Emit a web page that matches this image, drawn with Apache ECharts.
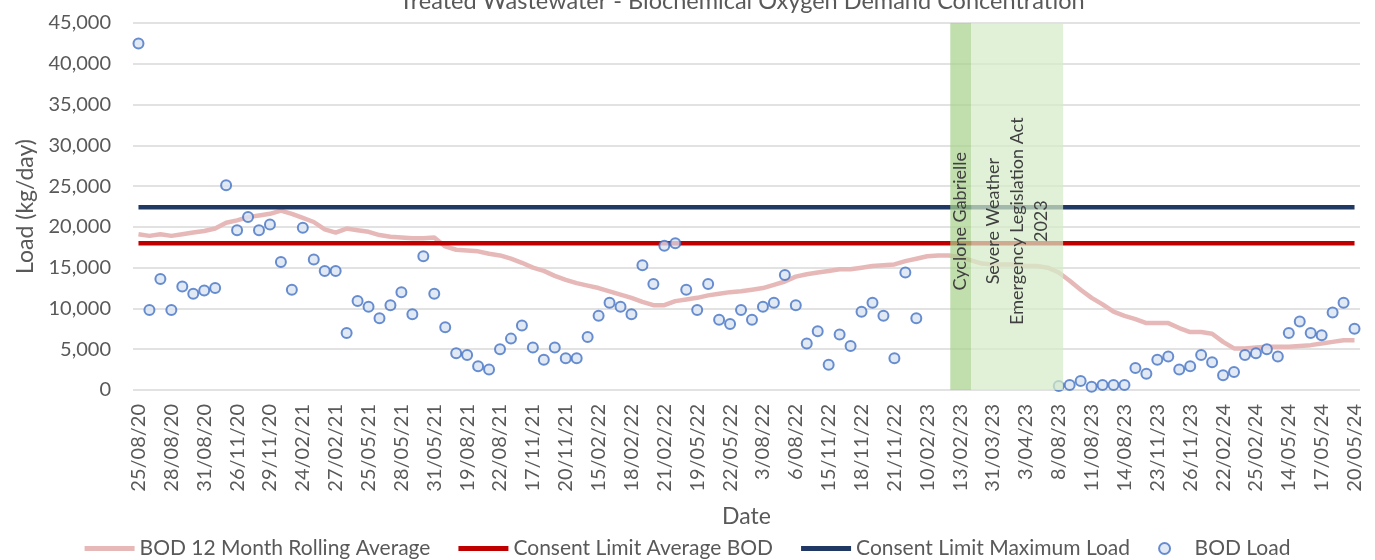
<!DOCTYPE html>
<html>
<head>
<meta charset="utf-8">
<title>Treated Wastewater - BOD</title>
<script src="https://cdn.jsdelivr.net/npm/echarts@6/dist/echarts.min.js"></script>
<style>
  html, body { margin: 0; padding: 0; background: #fff; }
  #chart { width: 1375px; height: 560px; }
</style>
</head>
<body>
<div id="chart"></div>
<script>
// sampling dates, one week each quarter
const dates = [
  '25/08/20', '26/08/20', '27/08/20', '28/08/20', '29/08/20', '30/08/20', '31/08/20',
  '24/11/20', '25/11/20', '26/11/20', '27/11/20', '28/11/20', '29/11/20', '30/11/20',
  '23/02/21', '24/02/21', '25/02/21', '26/02/21', '27/02/21', '28/02/21', '1/03/21',
  '25/05/21', '26/05/21', '27/05/21', '28/05/21', '29/05/21', '30/05/21', '31/05/21',
  '17/08/21', '18/08/21', '19/08/21', '20/08/21', '21/08/21', '22/08/21', '23/08/21',
  '16/11/21', '17/11/21', '18/11/21', '19/11/21', '20/11/21', '21/11/21', '22/11/21',
  '15/02/22', '16/02/22', '17/02/22', '18/02/22', '19/02/22', '20/02/22', '21/02/22',
  '17/05/22', '18/05/22', '19/05/22', '20/05/22', '21/05/22', '22/05/22', '23/05/22',
  '2/08/22', '3/08/22', '4/08/22', '5/08/22', '6/08/22', '7/08/22', '8/08/22',
  '15/11/22', '16/11/22', '17/11/22', '18/11/22', '19/11/22', '20/11/22', '21/11/22',
  '8/02/23', '9/02/23', '10/02/23', '11/02/23', '12/02/23', '13/02/23', '14/02/23',
  '30/03/23', '31/03/23', '1/04/23', '2/04/23', '3/04/23', '4/04/23', '5/04/23',
  '8/08/23', '9/08/23', '10/08/23', '11/08/23', '12/08/23', '13/08/23', '14/08/23',
  '21/11/23', '22/11/23', '23/11/23', '24/11/23', '25/11/23', '26/11/23', '27/11/23',
  '21/02/24', '22/02/24', '23/02/24', '24/02/24', '25/02/24', '26/02/24', '27/02/24',
  '14/05/24', '15/05/24', '16/05/24', '17/05/24', '18/05/24', '19/05/24', '20/05/24'
]

// BOD load (kg/day), null where no sample
const bodLoad = [
  42500, 9800, 13600, 9800, 12700, 11800, 12200,
  12500, 25100, 19600, 21200, 19600, 20300, 15700,
  12300, 19900, 16000, 14600, 14600, 7000, 10900,
  10200, 8800, 10400, 12000, 9300, 16400, 11800,
  7700, 4500, 4300, 2900, 2500, 5000, 6300,
  7900, 5200, 3700, 5200, 3900, 3900, 6500,
  9100, 10700, 10200, 9300, 15300, 13000, 17700,
  18000, 12300, 9800, 13000, 8600, 8100, 9800,
  8600, 10200, 10700, 14100, 10400, 5700, 7200,
  3100, 6800, 5400, 9600, 10700, 9100, 3900,
  14400, 8800, null, null, null, null, null,
  null, null, null, null, null, null, null,
  500, 600, 1100, 400, 600, 600, 600,
  2700, 2000, 3700, 4100, 2500, 2900, 4300,
  3400, 1800, 2200, 4300, 4500, 5000, 4100,
  7000, 8400, 7000, 6700, 9500, 10700, 7500
]

// 12 month rolling average
const rollingAvg = [
  19100, 18900, 19100, 18900, 19100, 19300, 19500,
  19800, 20500, 20800, 21200, 21400, 21600, 22000,
  21600, 21100, 20600, 19700, 19300, 19800, 19600,
  19400, 19000, 18800, 18700, 18600, 18600, 18700,
  17600, 17200, 17100, 17000, 16700, 16500, 16100,
  15600, 15000, 14600, 14000, 13500, 13100, 12800,
  12500, 12100, 11700, 11300, 10800, 10400, 10400,
  10900, 11100, 11300, 11600, 11800, 12000, 12100,
  12300, 12500, 12900, 13300, 13900, 14200, 14400,
  14600, 14800, 14800, 15000, 15200, 15300, 15400,
  15800, 16100, 16400, 16500, 16500, 16300, 15900,
  15500, 15400, 15400, 15400, 15200, 15200, 15000,
  14400, 13400, 12300, 11300, 10500, 9600, 9100,
  8700, 8200, 8200, 8200, 7600, 7100, 7100,
  6900, 5900, 5100, 5100, 5200, 5300, 5300,
  5300, 5400, 5500, 5700, 5900, 6100, 6100
]

const consentAvgLimit = 18000
const consentMaxLimit = 22400

// event bands, in category positions (0 = left edge of first date)
const eventBands = [[74.6, 76.5], [76.5, 84.9]]
const eventLabels = ['Cyclone Gabrielle', 'Severe Weather\nEmergency Legislation Act\n2023']
const eventColors = ['rgba(169,209,142,0.72)', 'rgba(214,235,200,0.72)']

const FONT = 'Lato'
const GREY = '#595959'
const LINE_ICON = 'path://M0,0 L50,0 L50,5 L0,5 Z'

function renderBand(params, api) {
  const i = params.dataIndex
  const cs = params.coordSys
  const x0 = api.coord([api.value(0), 0])[0]
  const x1 = api.coord([api.value(1), 0])[0]
  return {
    type: 'group',
    children: [
      {
        type: 'rect',
        shape: { x: x0, y: cs.y, width: x1 - x0, height: cs.height },
        style: { fill: eventColors[i] }
      },
      {
        type: 'text',
        x: (x0 + x1) / 2,
        y: cs.y + cs.height * 0.54,
        rotation: Math.PI / 2,
        style: {
          text: eventLabels[i],
          fill: '#404040',
          font: '18px ' + FONT,
          lineHeight: 24,
          align: 'center',
          verticalAlign: 'middle'
        }
      }
    ]
  }
}

const chart = echarts.init(document.getElementById('chart'))
const option = {
  animation: false,
  backgroundColor: '#fff',
  textStyle: { fontFamily: FONT },
  title: {
    text: 'Treated Wastewater - Biochemical Oxygen Demand Concentration',
    left: 737,
    textAlign: 'center',
    top: -16,
    textStyle: { fontFamily: FONT, fontSize: 23.5, fontWeight: 'normal', color: GREY }
  },
  legend: {
    data: [
      { name: 'BOD 12 Month Rolling Average', icon: LINE_ICON },
      { name: 'Consent Limit Average BOD', icon: LINE_ICON },
      { name: 'Consent Limit Maximum Load', icon: LINE_ICON },
      { name: 'BOD Load', icon: 'circle' }
    ],
    left: 'center',
    bottom: -4,
    itemWidth: 50,
    itemHeight: 11,
    itemGap: 28,
    textStyle: { fontFamily: FONT, fontSize: 21, color: GREY }
  },
  grid: {
    left: 133,
    right: 15,
    top: 23,
    bottom: 170,
    containLabel: false,
    outerBoundsMode: 'none'
  },
  xAxis: [{
    type: 'category',
    data: dates,
    boundaryGap: true,
    name: 'Date',
    nameLocation: 'middle',
    nameGap: 115,
    nameTextStyle: { fontFamily: FONT, fontSize: 23, color: GREY },
    axisLine: { show: false },
    axisTick: { show: false },
    axisLabel: {
      interval: 2,
      rotate: 90,
      margin: 14,
      fontFamily: FONT,
      fontSize: 20,
      color: GREY
    }
  }, {
    type: 'value',
    min: 0,
    max: dates.length,
    show: false
  }],
  yAxis: {
    type: 'value',
    min: 0,
    max: 45000,
    interval: 5000,
    name: 'Load (kg/day)',
    nameLocation: 'middle',
    nameGap: 92,
    nameTextStyle: { fontFamily: FONT, fontSize: 23, color: GREY },
    axisLine: { show: false },
    axisTick: { show: false },
    axisLabel: {
      fontFamily: FONT,
      fontSize: 20,
      color: GREY,
      margin: 22,
      formatter: v => v.toLocaleString('en-US')
    },
    splitLine: { lineStyle: { color: '#D9D9D9', width: 1.5 } }
  },
  series: [
    {
      name: 'BOD 12 Month Rolling Average',
      type: 'line',
      data: rollingAvg,
      symbol: 'none',
      color: '#E6B9B8',
      lineStyle: { color: '#E6B9B8', width: 4.5 },
      z: 2
    },
    {
      name: 'Consent Limit Average BOD',
      type: 'line',
      data: dates.map(() => consentAvgLimit),
      symbol: 'none',
      color: '#C00000',
      lineStyle: { color: '#C00000', width: 4.5 },
      z: 3
    },
    {
      name: 'Consent Limit Maximum Load',
      type: 'line',
      data: dates.map(() => consentMaxLimit),
      symbol: 'none',
      color: '#1F3864',
      lineStyle: { color: '#1F3864', width: 4.5 },
      z: 3
    },
    {
      name: 'BOD Load',
      type: 'scatter',
      data: bodLoad,
      symbol: 'circle',
      symbolSize: 10,
      itemStyle: { color: '#DAE3F3', borderColor: '#4472C4', borderWidth: 2 },
      z: 4
    },
    {
      name: 'events',
      type: 'custom',
      xAxisIndex: 1,
      silent: true,
      z: 10,
      renderItem: renderBand,
      encode: { x: [0, 1], y: 2 },
      data: eventBands.map(b => [b[0], b[1], 0])
    }
  ]
}
chart.setOption(option)
</script>
</body>
</html>
